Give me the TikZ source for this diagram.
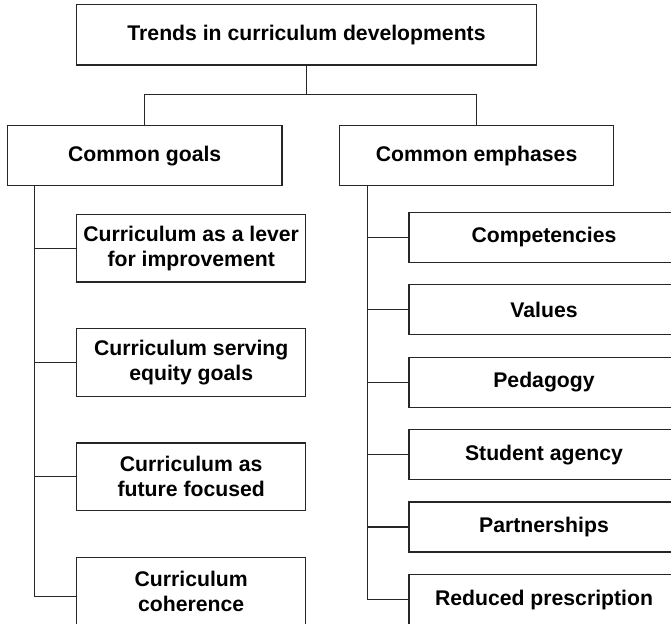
\documentclass[tikz,border=0pt]{standalone}
\usepackage{fontspec}
\setmainfont{Liberation Sans}
\begin{document}
\begin{tikzpicture}[x=1pt,y=-1pt,line width=1.2pt,
  box/.style={draw=black!85, rectangle, inner sep=0pt, align=center,
    font=\fontsize{21.2}{25}\selectfont\bfseries},
  topbox/.style={box, minimum width=460pt, minimum height=60.3pt},
  midbox/.style={box, minimum width=274.5pt, minimum height=60pt},
  goalbox/.style={box, minimum width=229pt, minimum height=67.7pt},
  emphbox/.style={box, minimum width=270pt, minimum height=50pt},
  link/.style={draw=black!85, line width=1.2pt}]
\useasboundingbox (0,0) rectangle (671,623);
\clip (0,0) rectangle (671,623);

\node[topbox] (top) at (306.5,34.8) {Trends in curriculum developments};
\node[midbox] (goals) at (144.7,155.7) {Common goals};
\node[midbox] (emph) at (476.6,155.7) {Common emphases};

\node[goalbox] (g1) at (191.2,248.2) {Curriculum as a lever\\for improvement};
\node[goalbox] (g2) at (191.2,362.5) {Curriculum serving\\equity goals};
\node[goalbox] (g3) at (191.2,476.8) {Curriculum as\\future focused};
\node[goalbox] (g4) at (191.2,591.2) {Curriculum\\coherence};

\node[emphbox] (e1) at (544,237.2) {Competencies};
\node[emphbox] (e2) at (544,309.7) {Values};
\node[emphbox] (e3) at (544,382.3) {Pedagogy};
\node[emphbox] (e4) at (544,454.7) {Student agency};
\node[emphbox] (e5) at (544,527) {Partnerships};
\node[emphbox] (e6) at (544,599.7) {Reduced prescription};

\draw[link] (top.south) -- ++(0,29.3) -| (goals.north);
\draw[link] (top.south) -- ++(0,29.3) -| (emph.north);

\coordinate (lt) at (34.5,0);
\coordinate (rt) at (367.5,0);

\draw[link] (goals.south -| lt) |- (g1.west);
\draw[link] (goals.south -| lt) |- (g2.west);
\draw[link] (goals.south -| lt) |- (g3.west);
\draw[link] (goals.south -| lt) |- ([yshift=-5pt]g4.west);

\draw[link] (emph.south -| rt) |- (e1.west);
\draw[link] (emph.south -| rt) |- (e2.west);
\draw[link] (emph.south -| rt) |- (e3.west);
\draw[link] (emph.south -| rt) |- (e4.west);
\draw[link] (emph.south -| rt) |- (e5.west);
\draw[link] (emph.south -| rt) |- (e6.west);
\end{tikzpicture}
\end{document}
